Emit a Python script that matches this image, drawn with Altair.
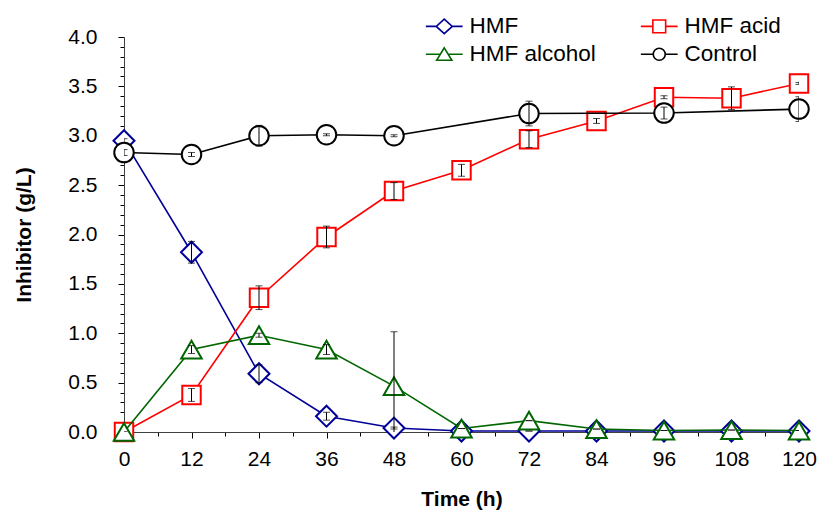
import altair as alt
import pandas as pd

# ---- data ----
time = [0, 12, 24, 36, 48, 60, 72, 84, 96, 108, 120]
hmf = [2.95, 1.82, 0.59, 0.16, 0.04, 0.01, 0.01, 0.01, 0.01, 0.01, 0.01]
hmf_err = [0.02, 0.11, 0.09, 0.04, 0.01, 0.0, 0.0, 0.0, 0.0, 0.0, 0.0]
acid = [0.0, 0.375, 1.36, 1.975, 2.44, 2.65, 2.965, 3.15, 3.39, 3.38, 3.53]
acid_err = [0.0, 0.065, 0.12, 0.11, 0.085, 0.06, 0.085, 0.025, 0.015, 0.115, 0.01]
alcohol = [0.0, 0.835, 0.98, 0.835, 0.465, 0.035, 0.115, 0.03, 0.015, 0.02, 0.015]
alcohol_err = [0.0, 0.04, 0.02, 0.05, 0.55, 0.0, 0.0, 0.0, 0.0, 0.0, 0.0]
control_time = [0, 12, 24, 36, 48, 72, 96, 120]
control = [2.83, 2.81, 3.0, 3.01, 3.0, 3.225, 3.23, 3.27]
control_err = [0.03, 0.02, 0.105, 0.01, 0.01, 0.125, 0.06, 0.125]

series = ["HMF", "HMF acid", "HMF alcohol", "Control"]
colors = ["#000099", "#FF0000", "#006600", "#000000"]
shapes = ["diamond", "square", "triangle-up", "circle"]
sizes = [440, 340, 420, 380]

x_ticks = list(range(0, 121, 6))
y_ticks = [round(i * 0.1, 1) for i in range(41)]

# legend symbols: line with marker in the middle
legend_paths = [
    "M-2.3,0H-1M1,0H2.3M0,-0.9L1,0L0,0.9L-1,0Z",
    "M-2.3,0H-0.8M0.8,0H2.3M-0.8,-0.8H0.8V0.8H-0.8Z",
    "M-2.3,0H-0.5M0.5,0H2.3M0,-0.8L0.95,0.75H-0.95Z",
    "M-2.3,0H-0.75M0.75,0H2.3M0.75,0A0.75,0.75,0,1,1,-0.75,0A0.75,0.75,0,1,1,0.75,0Z",
]

rows = []
for name, ts, vs, es in [
    ("HMF", time, hmf, hmf_err),
    ("HMF acid", time, acid, acid_err),
    ("HMF alcohol", time, alcohol, alcohol_err),
    ("Control", control_time, control, control_err),
]:
    for t, v, e in zip(ts, vs, es):
        rows.append({"series": name, "time": t, "value": v, "lo": v - e, "hi": v + e})
df = pd.DataFrame(rows)

font = "Liberation Sans"
major_x = "datum.value % 12 === 0"
major_y = "abs(datum.value * 2 - round(datum.value * 2)) < 0.001"
y_title = "Inhibitor (g/L)"

x_enc = alt.X(
    "time:Q",
    title="Time (h)",
    scale=alt.Scale(domain=[0, 120], nice=False, zero=False),
    axis=alt.Axis(
        values=x_ticks,
        labelExpr=f"{major_x} ? datum.label : ''",
        tickSize={"condition": {"test": major_x, "value": 6}, "value": 4},
        labelPadding=10,
        labelOverlap=False,
        labelFlush=False,
        titleX=337.5,
        titleY=67,
        titleBaseline="middle",
    ),
)


def y_enc(field):
    return alt.Y(
        field,
        title=y_title,
        scale=alt.Scale(domain=[0, 4], nice=False),
        axis=alt.Axis(
            values=y_ticks,
            labelExpr=f"{major_y} ? format(datum.value, '.1f') : ''",
            tickSize={"condition": {"test": major_y, "value": 6}, "value": 4},
            labelPadding=21,
            labelOverlap=False,
            labelFlush=False,
            titleX=-100,
            titleY=197.5,
            titleBaseline="middle",
        ),
    )


layers = []
for name, col, shp, sz in zip(series, colors, shapes, sizes):
    base = alt.Chart(df).transform_filter(alt.datum.series == name)
    line = base.mark_line(color=col, strokeWidth=1.6).encode(x=x_enc, y=y_enc("value:Q"))
    pts = base.mark_point(
        shape=shp, size=sz, filled=False, fill="white", stroke=col,
        strokeWidth=2, opacity=1
    ).encode(x=x_enc, y=y_enc("value:Q"))
    err = base.mark_errorbar(
        clip=True,
        ticks={"size": 7, "thickness": 1, "color": "black"},
        rule={"strokeWidth": 1, "color": "black"},
    ).encode(x=x_enc, y=y_enc("lo:Q"), y2=alt.Y2("hi:Q", title=y_title))
    layers += [line, pts, err]

legend = alt.Legend(
    title=None,
    orient="none",
    direction="horizontal",
    legendX=309,
    legendY=-22,
    columns=2,
    columnPadding=41,
    rowPadding=5,
    padding=0,
    labelFont=font,
    labelFontSize=22.5,
    labelColor="black",
    labelOffset=14,
    labelLimit=0,
    symbolSize=256,
    symbolStrokeWidth=1.6,
)
leg_layer = alt.Chart(df).transform_filter("false").mark_point(
    filled=False, opacity=1, strokeWidth=1.6
).encode(
    stroke=alt.Stroke("series:N", scale=alt.Scale(domain=series, range=colors), legend=legend),
    shape=alt.Shape("series:N", scale=alt.Scale(domain=series, range=legend_paths), legend=legend),
)
layers.append(leg_layer)

chart = alt.layer(*layers).properties(
    width=675,
    height=395,
    autosize=alt.AutoSizeParams(type="none"),
    padding={"left": 124, "top": 37, "right": 22, "bottom": 80},
).configure_view(stroke=None).configure_axis(
    labelFont=font,
    labelFontSize=21,
    labelColor="black",
    titleFont=font,
    titleFontSize=21,
    titleFontWeight="bold",
    titleColor="black",
    domainColor="#404040",
    domainWidth=1,
    tickColor="black",
    tickWidth=1,
    grid=False,
)

chart.save("out.html", embed_options={"renderer": "svg", "actions": False})
